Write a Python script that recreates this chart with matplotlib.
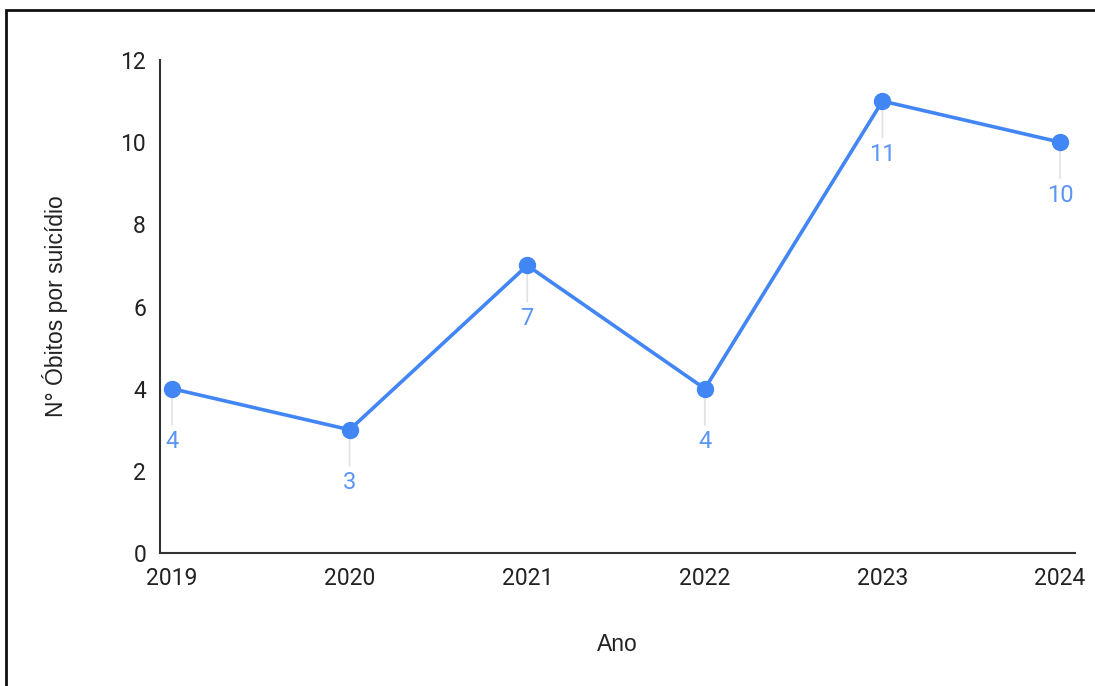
import matplotlib.pyplot as plt
from matplotlib.patches import Rectangle

anos = ['2019', '2020', '2021', '2022', '2023', '2024']
obitos = [4, 3, 7, 4, 11, 10]

W, H = 1095, 686
fig = plt.figure(figsize=(W / 100, H / 100), dpi=100)
ax = fig.add_axes([160 / W, 1 - 553 / H, (1075 - 160) / W, (553 - 60) / H])

x = list(range(len(anos)))
ax.plot(x, obitos, color='#4285f4', linewidth=2.6, marker='o', markersize=11.5,
        zorder=3, clip_on=False)

# rotulos com linha guia abaixo de cada ponto
for xi, yi in zip(x, obitos):
    ax.annotate('', xy=(xi, yi), xytext=(0, -26), textcoords='offset points',
                arrowprops=dict(arrowstyle='-', color='#e3e3e3', lw=1.3,
                                shrinkA=0, shrinkB=0), zorder=1)
    ax.annotate(str(yi), xy=(xi, yi), xytext=(0, -30), textcoords='offset points',
                ha='center', va='top', color='#5b95f5', fontsize=17,
                family='Roboto')

ax.set_xlim(-0.0676, 5.084)
ax.set_ylim(0, 12)
ax.set_yticks([0, 2, 4, 6, 8, 10, 12])
ax.set_xticks(x)
ax.set_xticklabels(anos)

for s in ['top', 'right']:
    ax.spines[s].set_visible(False)
for s in ['left', 'bottom']:
    ax.spines[s].set_color('#333333')
    ax.spines[s].set_linewidth(1.5)
ax.tick_params(axis='y', length=0, labelsize=16.5, labelcolor='#222222', pad=10)
ax.tick_params(axis='x', length=0, labelsize=16.5, labelcolor='#222222', pad=10)
for lab in ax.get_xticklabels() + ax.get_yticklabels():
    lab.set_family('Roboto')

ax.set_xlabel('Ano', fontsize=16.5, family='Liberation Sans', color='#222222', labelpad=31)
ax.set_ylabel('N° Óbitos por suicídio', fontsize=16.5, family='Liberation Sans',
              color='#222222', labelpad=38)

# moldura da figura
fig.patches.append(Rectangle((6 / W, -0.1), 1.2, 1 - 10 / H + 0.1,
                             transform=fig.transFigure, fill=False,
                             edgecolor='#111111', linewidth=2))

fig.savefig('out.png', dpi=100)
